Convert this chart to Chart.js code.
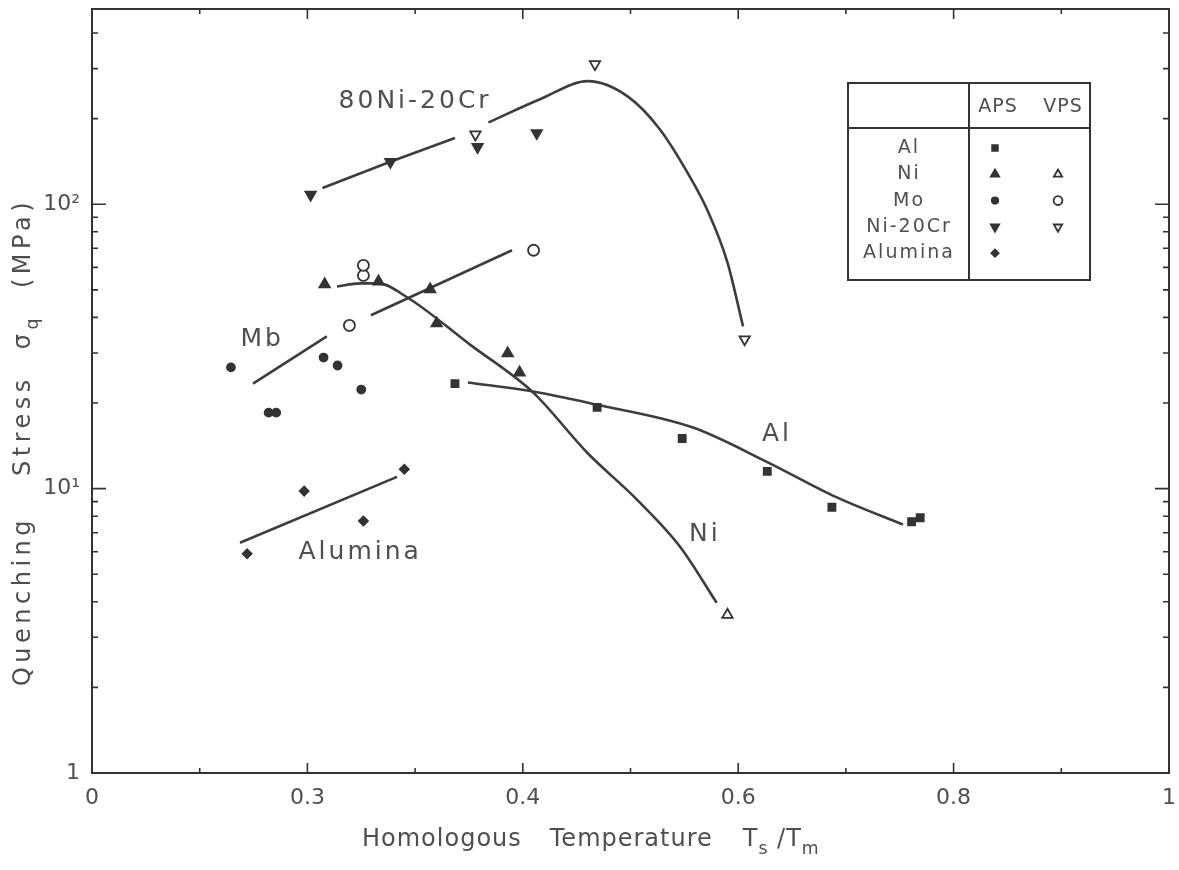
<!DOCTYPE html>
<html>
<head>
<meta charset="utf-8">
<title>Quenching stress vs homologous temperature</title>
<script src="https://cdn.jsdelivr.net/npm/chart.js@4"></script>
<style>
  html, body { margin: 0; background: #fff; }
  #wrap { width: 1179px; height: 870px; }
</style>
</head>
<body>
<div id="wrap"><canvas id="chart" width="1179" height="870"></canvas></div>
<script>
// tick labels as printed on the scan (second x label reads 0.3)
const xTickValues = [0, 0.2, 0.4, 0.6, 0.8, 1];
const xTickLabels = ['0', '0.3', '0.4', '0.6', '0.8', '1'];
const yTickValues = [1, 10, 100];
const yTickLabels = ['1', '10¹', '10²'];

// measured points: x = Ts/Tm, y = quenching stress (MPa)
const alApsX = [0.337, 0.469, 0.548, 0.627, 0.687, 0.761, 0.769];
const alApsY = [23.4, 19.3, 15.0, 11.5, 8.6, 7.65, 7.9];
const niApsX = [0.216, 0.266, 0.314, 0.320, 0.386, 0.397];
const niApsY = [52.3, 53.5, 50.2, 38.1, 29.9, 25.6];
const niVpsX = [0.590];
const niVpsY = [3.6];
const moApsX = [0.129, 0.164, 0.171, 0.215, 0.228, 0.250];
const moApsY = [26.7, 18.5, 18.5, 28.9, 27.1, 22.3];
const moVpsX = [0.239, 0.252, 0.252, 0.410];
const moVpsY = [37.5, 56.2, 61.0, 68.9];
const niCrApsX = [0.203, 0.277, 0.358, 0.413];
const niCrApsY = [108, 141, 159, 178];
const niCrVpsX = [0.356, 0.467, 0.606];
const niCrVpsY = [176, 311, 33.5];
const aluminaApsX = [0.144, 0.197, 0.252, 0.290];
const aluminaApsY = [5.9, 9.8, 7.7, 11.7];

// hand-drawn fit curves
const niCrFitAX = [0.214, 0.277, 0.337];
const niCrFitAY = [114, 141, 171];
const niCrFitBX = [0.368, 0.416, 0.4605, 0.497, 0.527, 0.5525, 0.571, 0.590, 0.6045];
const niCrFitBY = [194, 234, 271, 240, 184, 130, 96, 62.5, 37.2];
const moFitAX = [0.1495, 0.218];
const moFitAY = [23.4, 34.3];
const moFitBX = [0.259, 0.390];
const moFitBY = [40.7, 68.9];
const niFitX = [0.2275, 0.2488, 0.2656, 0.2925, 0.351, 0.4095, 0.4596, 0.506, 0.546, 0.580];
const niFitY = [51.4, 52.7, 52.7, 47.1, 32.1, 21.8, 13.4, 9.15, 6.25, 3.97];
const alFitX = [0.349, 0.4085, 0.467, 0.558, 0.627, 0.690, 0.753];
const alFitY = [23.6, 22.0, 19.8, 16.4, 12.4, 9.37, 7.47];
const aluminaFitX = [0.1374, 0.2832];
const aluminaFitY = [6.45, 11.0];

// curve names written in the plot, anchored in data units
const curveLabels = ['80Ni-20Cr', 'Mb', 'Al', 'Ni', 'Alumina'];
const curveLabelX = [0.300, 0.158, 0.636, 0.569, 0.249];
const curveLabelY = [230, 33.5, 15.5, 6.9, 5.95];

const legendRows = ['Al', 'Ni', 'Mo', 'Ni-20Cr', 'Alumina'];
const legendHeads = ['APS', 'VPS'];

const INK = '#333';
const LINE = '#3d3d3d';
const TEXT = '#4f4f4f';
const FONT = "'DejaVu Sans', sans-serif";

const pts = (xs, ys) => xs.map((x, i) => ({ x, y: ys[i] }));

// marker looks, one per material/process
const mk = {
  alAps: { pointStyle: 'rect', radius: 5, rotation: 0, fill: INK },
  niAps: { pointStyle: 'triangle', radius: 6, rotation: 0, fill: INK },
  niVps: { pointStyle: 'triangle', radius: 6, rotation: 0, fill: '#fff' },
  moAps: { pointStyle: 'circle', radius: 4, rotation: 0, fill: INK },
  moVps: { pointStyle: 'circle', radius: 5.5, rotation: 0, fill: '#fff' },
  niCrAps: { pointStyle: 'triangle', radius: 6, rotation: 180, fill: INK },
  niCrVps: { pointStyle: 'triangle', radius: 6, rotation: 180, fill: '#fff' },
  aluminaAps: { pointStyle: 'rectRot', radius: 4.5, rotation: 0, fill: INK },
};
const legendMarks = [
  [mk.alAps, null],
  [mk.niAps, mk.niVps],
  [mk.moAps, mk.moVps],
  [mk.niCrAps, mk.niCrVps],
  [mk.aluminaAps, null],
];

function markerSet(label, data, m) {
  return {
    label, data, showLine: false, order: 1,
    pointStyle: m.pointStyle, pointRadius: m.radius, pointRotation: m.rotation,
    backgroundColor: m.fill, borderColor: INK, borderWidth: 1.8,
  };
}
function curveSet(label, data, smooth) {
  return {
    label, data, showLine: true, order: 2, pointRadius: 0,
    borderColor: LINE, borderWidth: 2.6, backgroundColor: LINE,
    cubicInterpolationMode: smooth ? 'monotone' : 'default', tension: 0,
  };
}

function drawMark(ctx, m, x, y) {
  ctx.save();
  ctx.fillStyle = m.fill;
  ctx.strokeStyle = INK;
  ctx.lineWidth = 1.8;
  Chart.helpers.drawPoint(ctx, { pointStyle: m.pointStyle, radius: m.radius, rotation: m.rotation, borderWidth: 1.8 }, x, y);
  ctx.restore();
}

// text with optional subscripts
function richWidth(ctx, parts, size) {
  let w = 0;
  parts.forEach(p => {
    if (p.gap) { w += p.gap; return; }
    ctx.font = (p.sub ? size * 0.72 : size) + 'px ' + FONT;
    w += ctx.measureText(p.t).width;
  });
  return w;
}
function drawRich(ctx, parts, x, y, size) {
  parts.forEach(p => {
    if (p.gap) { x += p.gap; return; }
    ctx.font = (p.sub ? size * 0.72 : size) + 'px ' + FONT;
    ctx.fillText(p.t, x, p.sub ? y + size * 0.38 : y);
    x += ctx.measureText(p.t).width;
  });
}

const xTitleParts = [{ t: 'Homologous' }, { gap: 28 }, { t: 'Temperature' }, { gap: 30 }, { t: 'T' }, { t: 's', sub: true }, { t: ' /T' }, { t: 'm', sub: true }];
const yTitleParts = [{ t: 'Quenching' }, { gap: 40 }, { t: 'Stress' }, { gap: 26 }, { t: 'σ' }, { t: 'q', sub: true }, { gap: 26 }, { t: '(MPa)' }];

const decorations = {
  id: 'decorations',
  afterDraw(chart) {
    const { ctx, chartArea: a, scales } = chart;
    const sx = scales.x, sy = scales.y;
    ctx.save();

    // frame
    ctx.strokeStyle = INK;
    ctx.lineWidth = 2;
    ctx.strokeRect(a.left, a.top, a.right - a.left, a.bottom - a.top);

    // inward ticks on all four sides
    ctx.lineWidth = 1.6;
    ctx.beginPath();
    for (let v = 0.1; v < 1; v += 0.1) {
      const px = sx.getPixelForValue(v);
      const major = Math.abs(v * 5 - Math.round(v * 5)) < 1e-6;
      const len = major ? 10 : 5;
      ctx.moveTo(px, a.bottom); ctx.lineTo(px, a.bottom - len);
      ctx.moveTo(px, a.top); ctx.lineTo(px, a.top + len);
    }
    [1, 10, 100].forEach(d => {
      for (let m = 1; m <= 9; m++) {
        const v = m * d;
        if (v <= 1 || v > sy.max) continue;
        const py = sy.getPixelForValue(v);
        const len = m === 1 ? 14 : 6;
        ctx.moveTo(a.left, py); ctx.lineTo(a.left + len, py);
        ctx.moveTo(a.right, py); ctx.lineTo(a.right - len, py);
      }
    });
    ctx.stroke();

    // curve names
    ctx.fillStyle = TEXT;
    ctx.textAlign = 'center';
    ctx.textBaseline = 'middle';
    ctx.font = '25px ' + FONT;
    ctx.letterSpacing = '3px';
    curveLabels.forEach((t, i) => {
      ctx.fillText(t, sx.getPixelForValue(curveLabelX[i]), sy.getPixelForValue(curveLabelY[i]));
    });

    // axis titles
    ctx.textAlign = 'left';
    ctx.letterSpacing = '1px';
    drawRich(ctx, xTitleParts, 362, 840, 24);
    ctx.save();
    ctx.translate(24, 442);
    ctx.rotate(-Math.PI / 2);
    ctx.letterSpacing = '4.5px';
    const w = richWidth(ctx, yTitleParts, 24);
    drawRich(ctx, yTitleParts, -w / 2, 0, 24);
    ctx.restore();

    // legend table
    const L = 848, R = 1090, T = 83, B = 280, H = 128, D = 969;
    const apsX = 995, vpsX = 1058;
    ctx.fillStyle = '#fff';
    ctx.fillRect(L, T, R - L, B - T);
    ctx.strokeStyle = INK;
    ctx.lineWidth = 2;
    ctx.strokeRect(L, T, R - L, B - T);
    ctx.beginPath();
    ctx.moveTo(L, H); ctx.lineTo(R, H);
    ctx.moveTo(D, T); ctx.lineTo(D, B);
    ctx.stroke();
    ctx.fillStyle = TEXT;
    ctx.textAlign = 'center';
    ctx.font = '19px ' + FONT;
    ctx.letterSpacing = '1px';
    ctx.fillText(legendHeads[0], 998, 107);
    ctx.fillText(legendHeads[1], 1063, 107);
    ctx.letterSpacing = '2px';
    legendRows.forEach((name, i) => {
      const y = 148 + i * 26.3;
      ctx.fillStyle = TEXT;
      ctx.fillText(name, 909, y);
      const [aps, vps] = legendMarks[i];
      if (aps) drawMark(ctx, { ...aps, radius: aps.radius * 0.8 }, apsX, y);
      if (vps) drawMark(ctx, { ...vps, radius: vps.radius * 0.8 }, vpsX, y);
    });
    ctx.letterSpacing = '0px';
    ctx.restore();
  }
};

new Chart(document.getElementById('chart'), {
  type: 'scatter',
  data: {
    datasets: [
      curveSet('Ni-20Cr fit a', pts(niCrFitAX, niCrFitAY), false),
      curveSet('Ni-20Cr fit b', pts(niCrFitBX, niCrFitBY), true),
      curveSet('Mo fit a', pts(moFitAX, moFitAY), false),
      curveSet('Mo fit b', pts(moFitBX, moFitBY), false),
      curveSet('Ni fit', pts(niFitX, niFitY), true),
      curveSet('Al fit', pts(alFitX, alFitY), true),
      curveSet('Alumina fit', pts(aluminaFitX, aluminaFitY), false),
      markerSet('Al APS', pts(alApsX, alApsY), mk.alAps),
      markerSet('Ni APS', pts(niApsX, niApsY), mk.niAps),
      markerSet('Ni VPS', pts(niVpsX, niVpsY), mk.niVps),
      markerSet('Mo APS', pts(moApsX, moApsY), mk.moAps),
      markerSet('Mo VPS', pts(moVpsX, moVpsY), mk.moVps),
      markerSet('Ni-20Cr APS', pts(niCrApsX, niCrApsY), mk.niCrAps),
      markerSet('Ni-20Cr VPS', pts(niCrVpsX, niCrVpsY), mk.niCrVps),
      markerSet('Alumina APS', pts(aluminaApsX, aluminaApsY), mk.aluminaAps),
    ]
  },
  options: {
    responsive: false,
    animation: false,
    layout: { padding: { top: 9, right: 10, left: 0, bottom: 0 } },
    plugins: { legend: { display: false }, tooltip: { enabled: false } },
    scales: {
      x: {
        type: 'linear', min: 0, max: 1,
        afterBuildTicks: s => { s.ticks = xTickValues.map(v => ({ value: v })); },
        afterFit: s => { s.height = 97; s.paddingLeft = 0; s.paddingRight = 0; },
        ticks: {
          autoSkip: false, maxRotation: 0, padding: 12, color: TEXT,
          font: { family: FONT, size: 22 },
          callback: (v, i) => xTickLabels[i],
        },
        grid: { display: false, drawTicks: false },
        border: { display: false },
      },
      y: {
        type: 'logarithmic', min: 1, max: 486,
        afterBuildTicks: s => { s.ticks = yTickValues.map(v => ({ value: v, major: true })); },
        afterFit: s => { s.width = 92; s.paddingTop = 0; s.paddingBottom = 0; },
        ticks: {
          autoSkip: false, padding: 12, color: TEXT,
          font: { family: FONT, size: 22 },
          callback: (v, i) => yTickLabels[i],
        },
        grid: { display: false, drawTicks: false },
        border: { display: false },
      }
    }
  },
  plugins: [decorations]
});
</script>
</body>
</html>
